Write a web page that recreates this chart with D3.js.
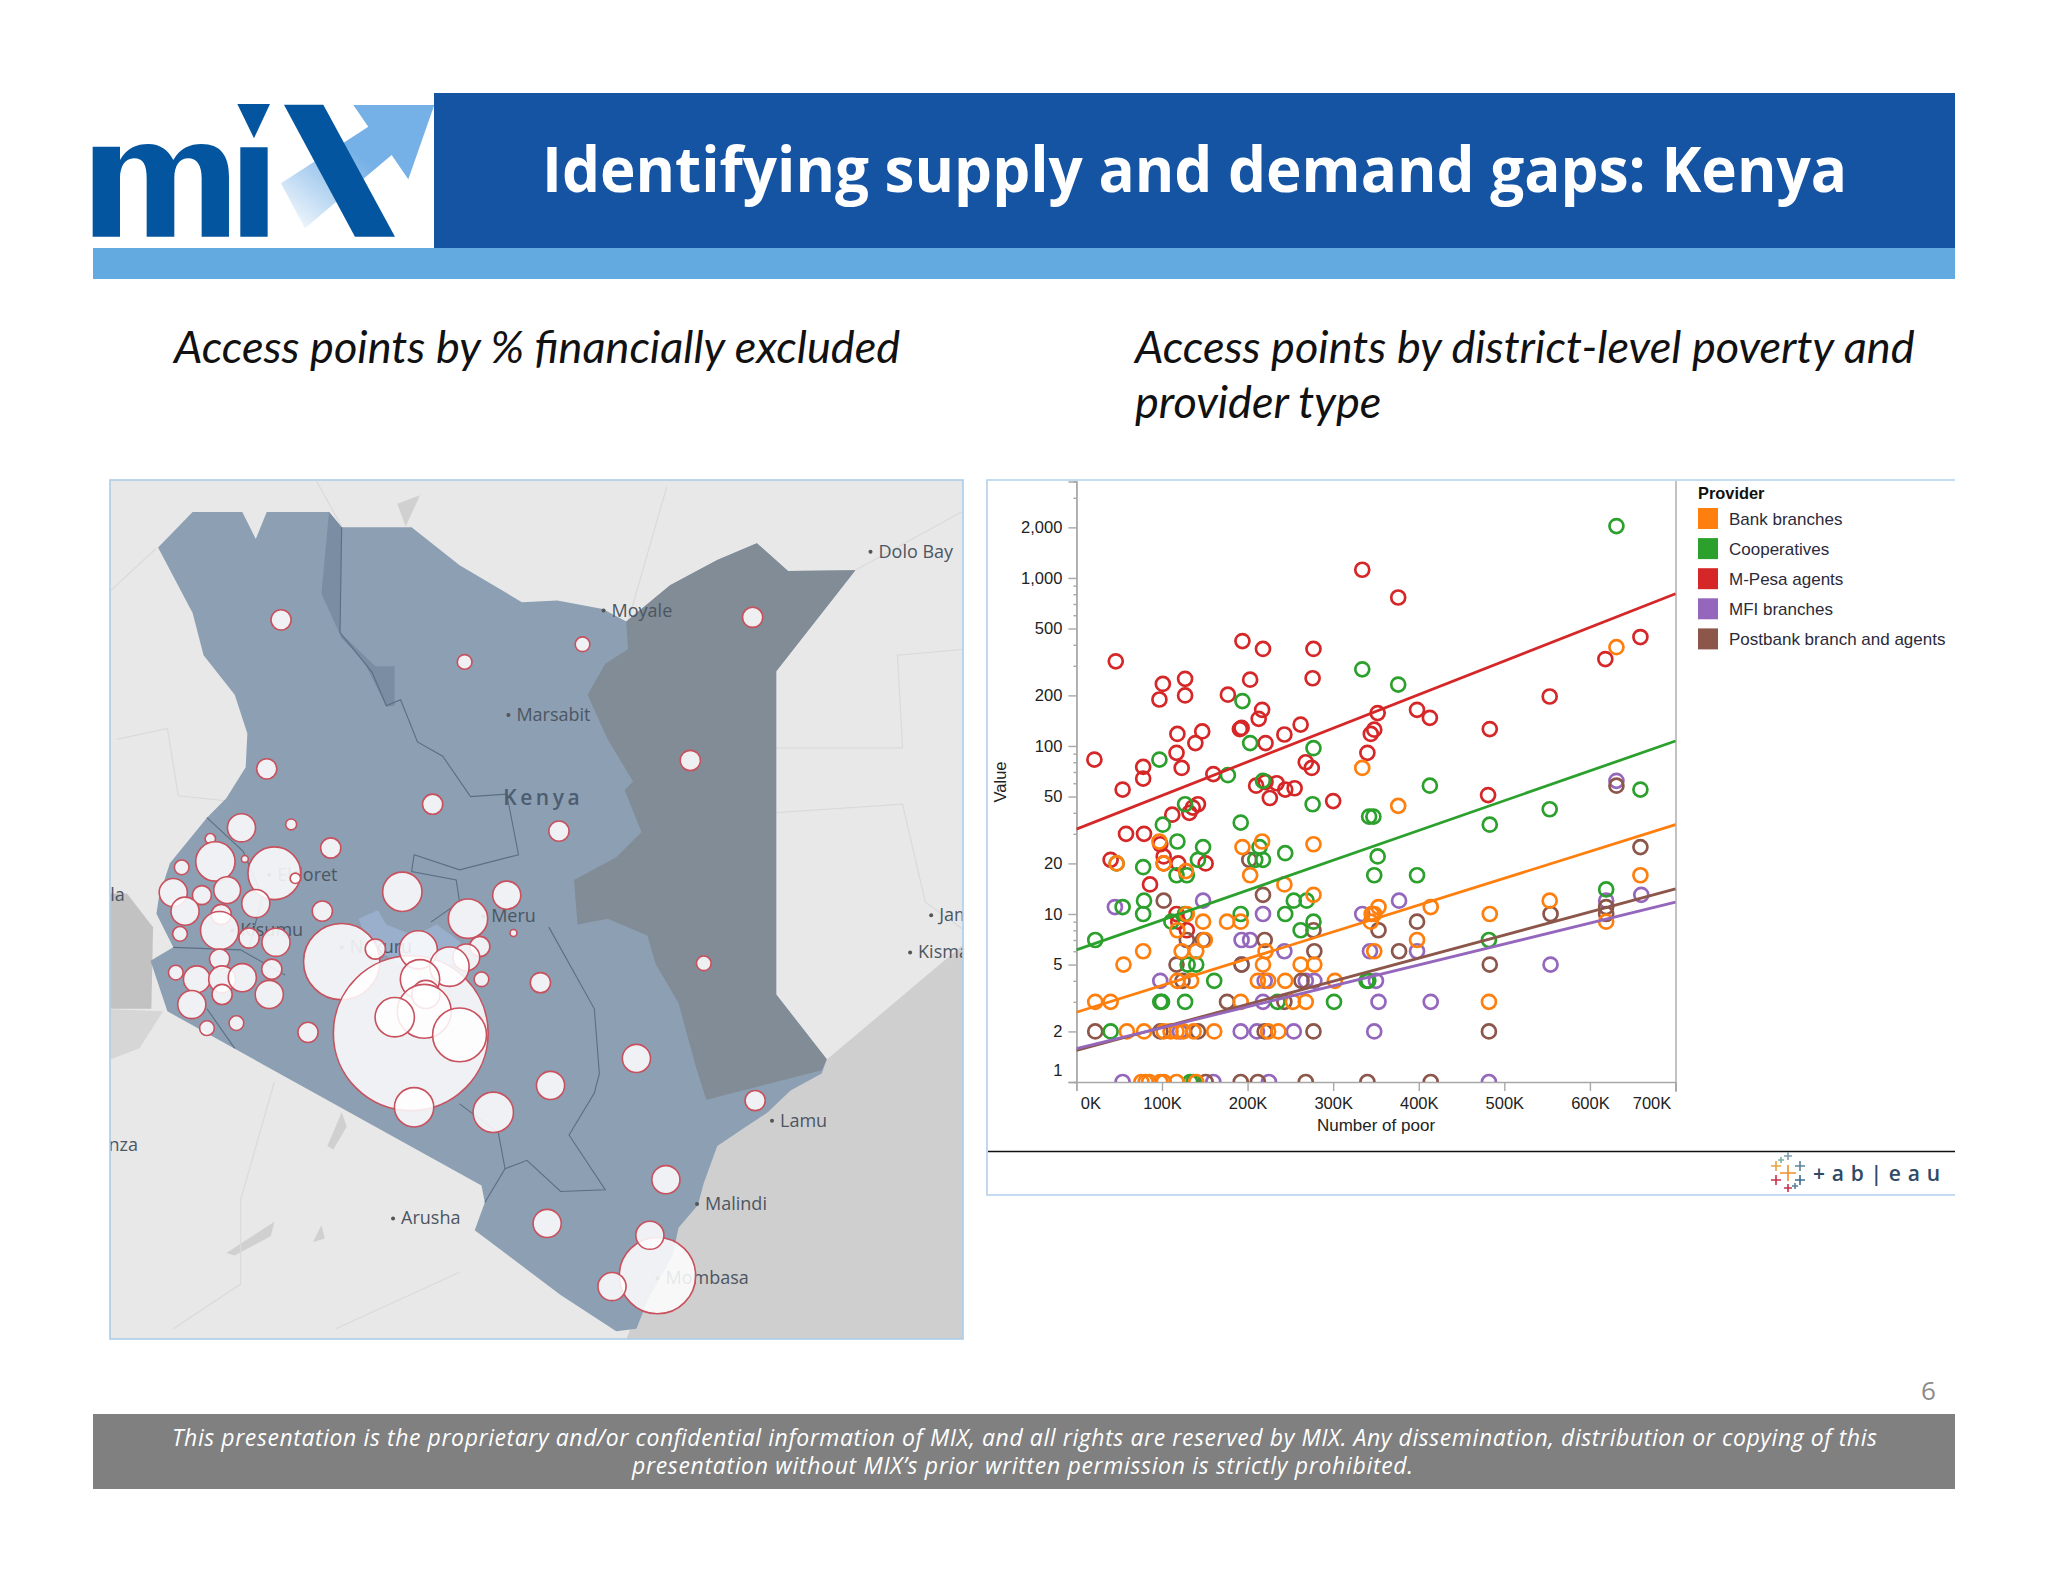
<!DOCTYPE html>
<html>
<head>
<meta charset="utf-8">
<script src="https://cdn.jsdelivr.net/npm/d3@7"></script>
<style>
body { margin: 0; background: #fff; }
svg { display: block; }
</style>
</head>
<body>
<script>
//providers in legend order
var providers = ["Bank branches", "Cooperatives", "M-Pesa agents", "MFI branches", "Postbank branch and agents"];
var providerColors = ["#ff7f0e", "#2ca02c", "#d62728", "#9467bd", "#8c564b"];

//scatter points: [number of poor in thousands, value]
var bankPoints = [[334,74],[376,44],[631,387],[659,17],[553,12],[277,26],[97,27],[217,27],[194,25],[128,18],[203,17],[243,15],[277,13],[47,20],[102,20],[129,10],[148,9],[176,9],[192,9],[118,8],[150,7],[78,6],[123,6],[140,6],[221,6],[348,6],[55,5],[218,5],[262,5],[278,5],[118,4],[134,4],[212,4],[224,4],[244,4],[302,4],[22,3],[40,3],[192,3],[253,3],[268,3],[482,3],[59,2],[79,2],[102,2],[110,2],[117,2],[125,2],[137,2],[161,2],[224,2],[236,2],[76,1],[81,1],[85,1],[98,1],[102,1],[117,1],[140,1],[353,11],[348,10],[345,10],[344,9],[414,11],[483,10],[619,9],[398,7]];
var coopPoints = [[97,83],[177,67],[194,185],[203,104],[277,97],[334,286],[376,232],[218,62],[276,45],[127,45],[101,34],[192,35],[342,38],[347,38],[413,58],[553,42],[483,34],[631,2037],[659,55],[118,27],[148,25],[47,20],[78,19],[117,17],[129,17],[142,21],[79,12],[78,10],[54,11],[214,25],[209,21],[218,21],[244,23],[254,12],[269,12],[244,10],[192,10],[262,8],[277,9],[111,9],[127,10],[22,7],[352,22],[348,17],[398,17],[130,5],[140,5],[161,4],[98,3],[100,3],[127,3],[235,3],[301,3],[339,4],[341,4],[482,7],[619,14],[40,2],[133,1],[137,1]];
var mpesaPoints = [[21,83],[46,319],[54,55],[78,75],[78,64],[97,189],[101,234],[127,251],[127,200],[118,118],[147,122],[139,104],[117,91],[123,74],[160,68],[177,202],[194,421],[218,378],[203,248],[277,378],[276,253],[217,164],[213,145],[191,126],[193,128],[221,104],[243,117],[262,134],[268,80],[275,74],[210,58],[221,61],[234,60],[244,55],[255,56],[226,49],[300,47],[334,1119],[376,765],[352,157],[344,118],[348,125],[340,91],[398,164],[413,147],[483,126],[481,51],[553,197],[618,329],[659,445],[112,39],[132,40],[142,45],[136,43],[58,30],[79,30],[40,21],[98,26],[102,22],[102,20],[119,20],[151,20],[86,15],[117,10],[119,9],[129,8]];
var mfiPoints = [[631,62],[45,11],[148,12],[218,10],[334,10],[193,7],[203,7],[243,6],[343,6],[98,4],[220,4],[268,4],[278,4],[350,4],[218,3],[353,3],[414,3],[121,2],[192,2],[211,2],[254,2],[348,2],[54,1],[160,1],[225,1],[482,1],[377,12],[619,12],[660,13],[398,6],[554,5],[193,5]];
var postbankPoints = [[631,58],[659,25],[102,12],[202,21],[218,13],[277,8],[129,7],[148,7],[220,7],[117,5],[193,5],[278,6],[124,4],[263,4],[176,3],[243,3],[22,2],[98,2],[142,2],[220,2],[277,2],[482,2],[151,1],[192,1],[212,1],[268,1],[340,1],[414,1],[353,8],[398,9],[377,6],[554,10],[619,11],[619,10],[483,5]];

//trend line values at 0K and at 700K, same order as providers
var trendStart = [2.6, 6.12, 32, 1.58, 1.54];
var trendEnd = [34, 107, 805, 11.75, 14.1];

//axis ticks
var xTicks = [0, 100, 200, 300, 400, 500, 600, 700];
var yTicks = [1, 2, 5, 10, 20, 50, 100, 200, 500, 1000, 2000];
var yMinorTicks = [3, 4, 6, 7, 8, 9, 30, 40, 60, 70, 80, 90, 300, 400, 600, 700, 800, 900, 3000];

//map bubbles: longitude, latitude, access points
var bubbleLon = [35.42,37.60,39.00,41.02,40.28,35.25,37.22,38.72,34.95,35.54,34.58,34.64,34.99,34.24,35.34,35.59,36.01,34.14,34.48,34.78,35.12,34.28,34.71,34.69,34.22,35.04,35.36,35.91,36.86,38.10,37.64,38.18,36.14,36.96,36.54,37.05,37.78,37.62,37.42,37.07,37.14,37.12,36.77,37.54,37.00,37.80,38.50,34.69,34.17,34.42,34.72,34.96,34.72,35.31,35.28,34.36,34.89,34.54,35.74,37.94,38.62,39.64,40.44,41.05,39.99,38.58,39.89,39.80,39.35];
var bubbleLat = [3.72,3.22,3.43,3.75,2.05,1.95,1.53,1.21,1.25,1.29,1.12,0.85,0.88,0.78,0.71,0.65,1.01,0.48,0.45,0.51,0.35,0.26,0.22,0.03,-0.01,-0.06,-0.11,0.26,0.49,0.45,0.17,0.00,-0.34,-1.19,-0.19,-0.20,-0.16,-0.29,-0.40,-0.55,-0.73,-0.93,-1.00,-1.21,-2.07,-0.55,-0.59,-0.31,-0.47,-0.55,-0.55,-0.53,-0.73,-0.43,-0.73,-0.85,-1.07,-1.13,-1.18,-2.13,-1.81,-1.49,-0.36,-1.99,-2.93,-3.45,-4.07,-3.59,-4.20];
var bubbleValue = [34,18,18,34,34,34,34,34,66,10,9,129,4,18,232,9,34,66,30,60,66,66,34,121,18,34,66,34,129,66,129,4,486,2000,34,121,34,60,129,129,66,242,129,242,129,18,34,34,18,60,60,66,34,34,66,66,18,18,34,136,66,66,18,34,66,66,486,66,66];

//map outlines as [lon, lat]
var kenyaOutline = [[33.96,4.58],[34.37,5.00],[34.96,5.00],[35.12,4.68],[35.25,5.00],[35.99,5.00],[36.14,4.82],[36.97,4.82],[37.54,4.37],[38.28,3.93],[38.70,3.95],[39.24,3.85],[39.52,3.70],[40.04,4.13],[40.60,4.43],[41.07,4.63],[41.44,4.30],[42.24,4.31],[41.30,3.11],[41.30,-0.73],[41.90,-1.50],[41.84,-1.67],[41.47,-1.87],[41.20,-2.13],[40.94,-2.30],[40.60,-2.53],[40.44,-2.97],[40.37,-3.23],[40.14,-3.50],[40.07,-3.83],[39.77,-4.37],[39.64,-4.70],[39.40,-4.73],[38.74,-4.30],[37.72,-3.53],[37.84,-3.20],[37.80,-3.00],[34.07,-0.93],[33.87,-0.33],[34.14,-0.17],[33.94,0.23],[33.97,0.43],[34.10,0.83],[34.54,1.37],[34.77,1.60],[35.00,1.97],[35.02,2.37],[34.87,2.83],[34.50,3.30],[34.37,3.80]];
var northEastern = [[39.52,3.70],[40.04,4.13],[40.60,4.43],[41.07,4.63],[41.44,4.30],[42.24,4.31],[41.30,3.11],[41.30,-0.73],[41.90,-1.50],[41.84,-1.63],[40.47,-1.98],[40.34,-1.57],[40.14,-0.83],[39.87,-0.37],[39.77,-0.03],[39.30,0.17],[38.94,0.10],[38.90,0.63],[39.40,0.90],[39.70,1.20],[39.50,1.70],[39.60,1.80],[39.30,2.30],[39.06,2.83],[39.27,3.20],[39.54,3.37]];
var turkanaBand = [[35.99,5.00],[36.14,4.82],[36.12,3.57],[36.54,3.17],[36.77,3.17],[36.77,2.70],[36.67,2.69],[36.40,3.23],[36.14,3.50],[35.90,4.03]];
var centralLakes = [[36.34,0.17],[36.57,0.27],[36.67,0.10],[37.00,-0.03],[37.27,0.10],[37.54,-0.10],[37.67,-0.37],[36.87,-0.37],[36.47,-0.17]];
var seaArea = [[41.87,-1.53],[43.72,0.03],[43.72,-4.95],[39.47,-4.95],[40.44,-2.5]];
var victoria = [[33.27,0.47],[33.59,0.47],[33.90,0.07],[33.88,-0.90],[33.27,-0.90]];
var victoriaShore = [[33.27,-0.90],[34.02,-0.93],[33.74,-1.37],[33.40,-1.50],[33.27,-1.50]];
var otherLakes = [
    [[34.77,-3.80],[35.34,-3.43],[35.30,-3.60],[34.87,-3.83]],
    [[35.97,-2.53],[36.14,-2.13],[36.20,-2.30],[36.04,-2.57]],
    [[35.80,-3.67],[35.90,-3.47],[35.94,-3.63]],
    [[36.80,5.10],[37.07,5.20],[36.90,4.83]]
];
var provinceLines = [
    [[36.14,4.82],[36.12,3.57],[36.50,3.10],[36.67,2.70],[36.84,2.77],[37.04,2.27],[37.34,2.10],[37.67,1.62],[38.10,1.65],[38.24,0.93],[37.54,0.75],[37.00,0.93],[36.97,0.73],[37.50,0.63],[37.54,0.37],[37.20,0.13]],
    [[38.60,0.07],[39.14,-0.90],[39.20,-1.67],[39.14,-1.90],[38.84,-2.40],[39.27,-3.05],[38.74,-3.07],[38.34,-2.70],[38.08,-2.80],[37.84,-3.20]],
    [[38.08,-2.80],[38.00,-2.37],[37.54,-2.03]],
    [[34.54,1.37],[34.97,0.97],[35.20,0.43],[35.04,-0.17]],
    [[34.14,-0.17],[34.94,-0.20],[35.47,-0.50]],
    [[34.54,-0.90],[34.87,-1.37]]
];
var borderLines = [
    [[33.40,4.07],[33.94,4.57]],
    [[35.84,5.37],[36.14,4.83]],
    [[40.00,5.30],[39.54,3.70]],
    [[42.24,4.31],[43.50,5.00]],
    [[41.30,1.43],[42.80,1.53],[43.07,0.37],[43.54,0.03]],
    [[41.30,2.20],[42.80,2.20],[42.74,3.30],[43.52,3.37]],
    [[35.34,-1.77],[34.94,-3.17],[34.94,-4.17],[34.14,-4.70]],
    [[37.54,-4.03],[36.07,-4.70]],
    [[33.47,2.30],[34.07,2.43],[34.20,1.63],[34.77,1.57]]
];

//places on the base map
var placeNames = ["Dolo Bay","Moyale","Marsabit","Eldoret","Meru","Kisumu","Nakuru","Jamaame","Kismayo","Lamu","Malindi","Arusha","Mombasa","Mwanza","Kampala"];
var placeLon = [42.42,39.25,38.12,35.28,37.82,34.84,36.14,43.14,42.89,41.25,40.36,36.75,39.89,32.80,32.60];
var placeLat = [4.53,3.83,2.59,0.69,0.20,0.03,-0.17,0.21,-0.23,-2.23,-3.22,-3.39,-4.10,-2.52,0.45];

var svg = d3.select("body")
    .append("svg")
    .attr("width", 2048)
    .attr("height", 1582);

var defs = svg.append("defs");

//slide header
svg.append("rect").attr("x", 93).attr("y", 248).attr("width", 1862).attr("height", 31).attr("fill", "#62aadf");
svg.append("rect").attr("x", 434).attr("y", 93).attr("width", 1521).attr("height", 155).attr("fill", "#1553a3");

//logo, drawn on a 3x grid
var arrowFade = defs.append("linearGradient")
    .attr("id", "arrowFade")
    .attr("x1", 0).attr("y1", 1).attr("x2", 0.55).attr("y2", 0.45);
arrowFade.append("stop").attr("offset", "0%").attr("stop-color", "#75b0e6").attr("stop-opacity", 0);
arrowFade.append("stop").attr("offset", "100%").attr("stop-color", "#75b0e6");

var logo = svg.append("g").attr("transform", "translate(80,80) scale(0.3333)");
logo.append("path").attr("fill", "url(#arrowFade)")
    .attr("d", "M603,310 L865,140 L820,75 L1063,75 L985,298 L935,225 L675,445 Z");
logo.append("path").attr("fill", "#03559f")
    .attr("d", "M38,200 H120 V240 C140,205 170,192 205,192 C240,192 265,210 280,240 C300,205 330,192 365,192 C420,192 447,225 447,290 V470 H365 V295 C365,255 350,235 325,235 C300,235 283,255 283,295 V470 H200 V295 C200,255 190,235 162,235 C135,235 120,260 120,295 V470 H38 Z");
logo.append("path").attr("fill", "#03559f").attr("d", "M481,202 H563 V470 H481 Z M472,72 H570 L522,175 Z");
logo.append("path").attr("fill", "#03559f").attr("d", "M612,74 H730 L945,470 H825 Z");

svg.append("text")
    .attr("x", 542).attr("y", 192)
    .attr("textLength", 1305).attr("lengthAdjust", "spacingAndGlyphs")
    .style("font", "700 62px 'Open Sans'")
    .style("fill", "#fff")
    .text("Identifying supply and demand gaps: Kenya");

//panel headings
var headings = svg.append("g").style("font", "italic 45.1px Lato").style("fill", "#111");
headings.append("text").attr("x", 174).attr("y", 363).text("Access points by % financially excluded");
headings.append("text").attr("x", 1135).attr("y", 363).text("Access points by district-level poverty and");
headings.append("text").attr("x", 1135).attr("y", 418).text("provider type");

//map panel
var lonScale = d3.scaleLinear().domain([33.27, 43.72]).range([100, 980]);
var latScale = d3.scaleLinear().domain([5.5, -4.953]).range([470, 1350]);
var mapLine = d3.line()
    .x(function (d) { return lonScale(d[0]); })
    .y(function (d) { return latScale(d[1]); });
var mapShape = function (pts) { return mapLine(pts) + "Z"; };

defs.append("clipPath").attr("id", "mapClip")
    .append("rect").attr("x", 110).attr("y", 480).attr("width", 853).attr("height", 859);

var map = svg.append("g").attr("clip-path", "url(#mapClip)");
map.append("rect").attr("x", 110).attr("y", 480).attr("width", 853).attr("height", 859).attr("fill", "#e8e8e8");
map.append("path").attr("d", mapShape(seaArea)).attr("fill", "#cfcfcf");
map.append("path").attr("d", mapShape(victoria)).attr("fill", "#c2c2c2");
map.append("path").attr("d", mapShape(victoriaShore)).attr("fill", "#d6d6d6");
map.selectAll(".lake").data(otherLakes).enter().append("path")
    .attr("class", "lake").attr("d", mapShape).attr("fill", "#d0d0d0");
map.selectAll(".border").data(borderLines).enter().append("path")
    .attr("class", "border").attr("d", mapLine)
    .attr("fill", "none").attr("stroke", "#dadada").attr("stroke-width", 1.2);

map.append("path").attr("d", mapShape(kenyaOutline)).attr("fill", "#8c9fb3");
map.append("path").attr("d", mapShape(northEastern)).attr("fill", "#818c96");
map.append("path").attr("d", mapShape(turkanaBand)).attr("fill", "#7a8da2");
map.append("path").attr("d", mapShape(centralLakes)).attr("fill", "#99afcc");
map.selectAll(".province").data(provinceLines).enter().append("path")
    .attr("class", "province").attr("d", mapLine)
    .attr("fill", "none").attr("stroke", "#5c6e82").attr("stroke-width", 1.1);

//place labels sit under the bubbles
map.selectAll(".placeDot").data(placeNames).enter().append("circle")
    .attr("class", "placeDot")
    .attr("cx", function (d, i) { return lonScale(placeLon[i]); })
    .attr("cy", function (d, i) { return latScale(placeLat[i]); })
    .attr("r", 2)
    .attr("fill", "#555");
map.selectAll(".placeName").data(placeNames).enter().append("text")
    .attr("class", "placeName")
    .attr("x", function (d, i) { return lonScale(placeLon[i]) + 8; })
    .attr("y", function (d, i) { return latScale(placeLat[i]) + 6; })
    .style("font", "18px 'Open Sans'")
    .style("fill", "#4c5662")
    .text(function (d) { return d; });
map.append("text")
    .attr("x", lonScale(38.06)).attr("y", latScale(1.52))
    .style("font", "600 21px 'Open Sans'")
    .style("letter-spacing", "3.5px")
    .style("fill", "#4c5d72")
    .text("Kenya");

var bubbleSize = d3.scaleSqrt().domain([0, 2000]).range([0, 77.4]);
map.selectAll(".bubble").data(bubbleValue).enter().append("circle")
    .attr("class", "bubble")
    .attr("cx", function (d, i) { return lonScale(bubbleLon[i]); })
    .attr("cy", function (d, i) { return latScale(bubbleLat[i]); })
    .attr("r", function (d) { return bubbleSize(d); })
    .attr("fill", "#fff")
    .attr("fill-opacity", 0.86)
    .attr("stroke", "#c9505d")
    .attr("stroke-width", 1.6);

svg.append("rect").attr("x", 110).attr("y", 480).attr("width", 853).attr("height", 859)
    .attr("fill", "none").attr("stroke", "#a9cdea").attr("stroke-width", 1.6);

//scatter panel frame
svg.append("path")
    .attr("d", "M1955,480 H987 V1195 H1955")
    .attr("fill", "none").attr("stroke", "#b3cfea").attr("stroke-width", 1.6);
svg.append("line").attr("x1", 988).attr("x2", 1955).attr("y1", 1151.5).attr("y2", 1151.5)
    .attr("stroke", "#111").attr("stroke-width", 1.6);

//scatter scales
var xScale = d3.scaleLinear().domain([0, 700]).range([1076.4, 1675.5]);
var yScale = d3.scaleLog().domain([1, 3750]).range([1082, 481.5]);

defs.append("clipPath").attr("id", "plotClip")
    .append("rect").attr("x", 1076.4).attr("y", 481).attr("width", 600).attr("height", 601);

var chartFont = "16.5px 'Liberation Sans'";

//axes
var xAxis = svg.append("g")
    .attr("transform", "translate(0,1082)")
    .call(d3.axisBottom(xScale).tickValues(xTicks).tickSize(9).tickFormat(function (d) { return d + "K"; }));
xAxis.selectAll("text")
    .attr("dx", function (d) { return d === 0 ? 14 : d === 700 ? -24 : 0; })
    .attr("y", 15);

var yAxis = svg.append("g")
    .attr("transform", "translate(1076.4,0)")
    .call(d3.axisLeft(yScale).tickValues(yTicks).tickSize(8).tickFormat(d3.format(",")));
yAxis.selectAll("text")
    .attr("x", -14)
    .attr("dy", function (d) { return d === 1 ? "-0.42em" : "0.32em"; });

var yMinor = svg.append("g")
    .attr("transform", "translate(1076.4,0)")
    .call(d3.axisLeft(yScale).tickValues(yMinorTicks).tickSize(3).tickFormat(""));

[xAxis, yAxis, yMinor].forEach(function (axis) {
    axis.selectAll("path, line").attr("stroke", "#a8a8a8").attr("stroke-width", 1.4);
    axis.selectAll("text").style("font", chartFont).style("fill", "#222");
});

svg.append("line").attr("x1", 1676).attr("x2", 1676).attr("y1", 481).attr("y2", 1092)
    .attr("stroke", "#a8a8a8").attr("stroke-width", 1.4);

svg.append("text")
    .attr("x", 1376).attr("y", 1131)
    .attr("text-anchor", "middle")
    .style("font", "17px 'Liberation Sans'").style("fill", "#222")
    .text("Number of poor");
svg.append("text")
    .attr("transform", "translate(1006,782) rotate(-90)")
    .attr("text-anchor", "middle")
    .style("font", chartFont).style("fill", "#222")
    .text("Value");

//points, drawn back to front
var plot = svg.append("g").attr("clip-path", "url(#plotClip)");
var drawOrder = [
    [mpesaPoints, 2],
    [mfiPoints, 3],
    [postbankPoints, 4],
    [coopPoints, 1],
    [bankPoints, 0]
];
drawOrder.forEach(function (series) {
    plot.append("g").selectAll("circle")
        .data(series[0])
        .enter()
        .append("circle")
        .attr("cx", function (d) { return xScale(d[0]); })
        .attr("cy", function (d) { return yScale(d[1]); })
        .attr("r", 7)
        .attr("fill", "none")
        .attr("stroke", providerColors[series[1]])
        .attr("stroke-width", 2.7);
});

//trend lines, straight on the log axis
[2, 1, 0, 4, 3].forEach(function (i) {
    plot.append("line")
        .attr("x1", xScale(0)).attr("y1", yScale(trendStart[i]))
        .attr("x2", xScale(700)).attr("y2", yScale(trendEnd[i]))
        .attr("stroke", providerColors[i])
        .attr("stroke-width", 2.8);
});

//legend
svg.append("text")
    .attr("x", 1698).attr("y", 499)
    .style("font", "bold 16.4px 'Liberation Sans'").style("fill", "#111")
    .text("Provider");
var legend = svg.selectAll(".legendRow")
    .data(providers)
    .enter()
    .append("g")
    .attr("class", "legendRow")
    .attr("transform", function (d, i) { return "translate(1698," + (508 + i * 30.1) + ")"; });
legend.append("rect")
    .attr("width", 20).attr("height", 21)
    .attr("fill", function (d, i) { return providerColors[i]; });
legend.append("text")
    .attr("x", 31).attr("y", 16.5)
    .style("font", "17px 'Liberation Sans'")
    .style("fill", "#2a2a3a")
    .text(function (d) { return d; });

//tableau mark
var markCrosses = [[0,0,8,"#f28e2b"],[-12,-7,5,"#e8a33d"],[12,-7,5,"#59829b"],[-12,7,5,"#c8324a"],[12,7,5,"#3f6c8c"],[0,-17,4,"#7f9fb3"],[0,15,4,"#c8324a"],[-7,-13,3,"#7fb0a0"],[7,13,3,"#5a7fa0"]];
var mark = svg.append("g").attr("transform", "translate(1788,1173)");
mark.selectAll("path").data(markCrosses).enter().append("path")
    .attr("d", function (d) {
        return "M" + (d[0] - d[2]) + "," + d[1] + "H" + (d[0] + d[2]) + "M" + d[0] + "," + (d[1] - d[2]) + "V" + (d[1] + d[2]);
    })
    .attr("stroke", function (d) { return d[3]; })
    .attr("stroke-width", 1.6);
svg.append("text")
    .attr("x", 1813).attr("y", 1181)
    .attr("textLength", 127).attr("lengthAdjust", "spacing")
    .style("font", "600 21px 'Open Sans'").style("fill", "#2f4a66")
    .text("+ab|eau");

//footer
svg.append("text")
    .attr("x", 1921).attr("y", 1400)
    .style("font", "26px 'Open Sans'").style("fill", "#8b8b8b")
    .text("6");
svg.append("rect").attr("x", 93).attr("y", 1414).attr("width", 1862).attr("height", 75).attr("fill", "#808080");
var footerStyle = "italic 23px 'Open Sans'";
svg.append("text")
    .attr("x", 172).attr("y", 1446)
    .attr("textLength", 1705).attr("lengthAdjust", "spacing")
    .style("font", footerStyle).style("fill", "#fff")
    .text("This presentation is the proprietary and/or confidential information of MIX, and all rights are reserved by MIX. Any dissemination, distribution or copying of this");
svg.append("text")
    .attr("x", 632).attr("y", 1474)
    .attr("textLength", 781).attr("lengthAdjust", "spacing")
    .style("font", footerStyle).style("fill", "#fff")
    .text("presentation without MIX\u2019s prior written permission is strictly prohibited.");
</script>
</body>
</html>
